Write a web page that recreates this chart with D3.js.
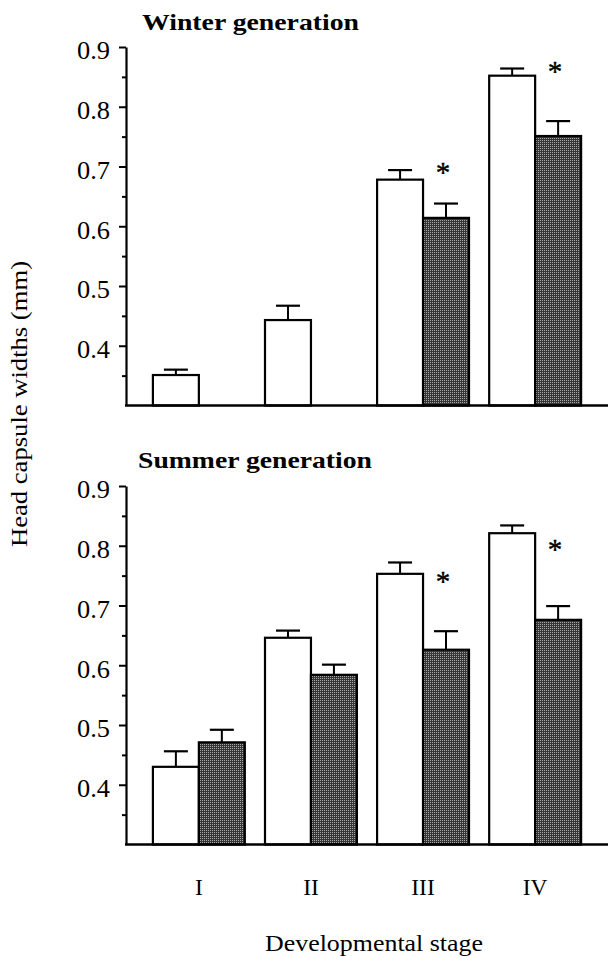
<!DOCTYPE html>
<html>
<head>
<meta charset="utf-8">
<script src="https://cdn.jsdelivr.net/npm/d3@7"></script>
<style>
  html, body { margin: 0; padding: 0; background: #fff; }
  svg { display: block; }
  text { font-family: "Liberation Serif", "Times New Roman", serif; fill: #000; }
</style>
</head>
<body>
<div id="chart"></div>
<script>
// stages on the x axis
var stages = ["I", "II", "III", "IV"];

// winter generation: open bars (mean, SE) and stippled bars (mean, SE)
var winterOpen     = [0.351, 0.443, 0.678, 0.852];
var winterOpenSE   = [0.009, 0.024, 0.016, 0.012];
var winterFilled   = [null, null, 0.614, 0.751];
var winterFilledSE = [null, null, 0.024, 0.025];
var winterStars    = [null, null, 0.700, 0.870];

// summer generation
var summerOpen     = [0.430, 0.646, 0.753, 0.821];
var summerOpenSE   = [0.026, 0.012, 0.019, 0.013];
var summerFilled   = [0.471, 0.584, 0.626, 0.676];
var summerFilledSE = [0.021, 0.017, 0.031, 0.023];
var summerStars    = [null, null, 0.751, 0.804];

var majorTicks = [0.4, 0.5, 0.6, 0.7, 0.8, 0.9];
var minorTicks = [0.35, 0.45, 0.55, 0.65, 0.75, 0.85];

var W = 608, H = 956;

var svg = d3.select("#chart").append("svg")
    .attr("width", W).attr("height", H)
    .attr("viewBox", "0 0 " + W + " " + H);

// stipple fill for the dark bars
var pat = svg.append("defs").append("pattern")
    .attr("id", "stipple")
    .attr("width", 2).attr("height", 2)
    .attr("patternUnits", "userSpaceOnUse");
pat.append("rect").attr("width", 2).attr("height", 2).attr("fill", "#363636");
pat.append("rect").attr("width", 1).attr("height", 1).attr("fill", "#a8a8a8");

var axisX = 126;

var x = d3.scaleBand()
    .domain(stages)
    .range([axisX, W])
    .paddingInner(0.18)
    .paddingOuter(0.24);

var sub = d3.scaleBand()
    .domain(["open", "filled"])
    .range([0, x.bandwidth()]);

var panels = [
  { title: "Winter  generation", titleX: 142, titleY: 30, titleLen: 217,
    top: 47, bottom: 405.5,
    open: winterOpen, openSE: winterOpenSE,
    filled: winterFilled, filledSE: winterFilledSE, stars: winterStars },
  { title: "Summer  generation", titleX: 138, titleY: 468, titleLen: 234,
    top: 486, bottom: 844.5,
    open: summerOpen, openSE: summerOpenSE,
    filled: summerFilled, filledSE: summerFilledSE, stars: summerStars }
];

panels.forEach(function(p){
    var y = d3.scaleLinear().domain([0.3, 0.9]).range([p.bottom, p.top]);
    var g = svg.append("g");

    g.append("text")
        .attr("x", p.titleX).attr("y", p.titleY)
        .attr("font-size", 23).attr("font-weight", "bold")
        .attr("textLength", p.titleLen).attr("lengthAdjust", "spacingAndGlyphs")
        .text(p.title);

    // bars
    var rows = stages.map(function(s, i){
        return [
          { stage: s, key: "open", v: p.open[i], se: p.openSE[i] },
          { stage: s, key: "filled", v: p.filled[i], se: p.filledSE[i] }
        ];
    }).flat().filter(function(d){ return d.v != null; });

    var bars = g.selectAll("g.bar").data(rows).enter().append("g").attr("class", "bar");

    bars.append("line")
        .attr("x1", function(d){ return x(d.stage) + sub(d.key) + sub.bandwidth() / 2; })
        .attr("x2", function(d){ return x(d.stage) + sub(d.key) + sub.bandwidth() / 2; })
        .attr("y1", function(d){ return y(d.v); })
        .attr("y2", function(d){ return y(d.v + d.se); })
        .attr("stroke", "#000").attr("stroke-width", 2);

    bars.append("line")
        .attr("x1", function(d){ return x(d.stage) + sub(d.key) + sub.bandwidth() / 2 - 12; })
        .attr("x2", function(d){ return x(d.stage) + sub(d.key) + sub.bandwidth() / 2 + 12; })
        .attr("y1", function(d){ return y(d.v + d.se); })
        .attr("y2", function(d){ return y(d.v + d.se); })
        .attr("stroke", "#000").attr("stroke-width", 2.2);

    bars.append("rect")
        .attr("x", function(d){ return x(d.stage) + sub(d.key); })
        .attr("y", function(d){ return y(d.v); })
        .attr("width", sub.bandwidth())
        .attr("height", function(d){ return y(0.3) - y(d.v); })
        .attr("fill", function(d){ return d.key == "open" ? "#fff" : "url(#stipple)"; })
        .attr("stroke", "#000").attr("stroke-width", 2.2);

    // significance marks
    g.selectAll("text.star")
        .data(stages.map(function(s, i){ return { stage: s, v: p.stars[i] }; })
                    .filter(function(d){ return d.v != null; }))
        .enter().append("text").attr("class", "star")
        .attr("x", function(d){ return x(d.stage) + sub("filled") + sub.bandwidth() / 2 - 3; })
        .attr("y", function(d){ return y(d.v); })
        .attr("dy", "0.55em")
        .attr("text-anchor", "middle")
        .attr("font-size", 29)
        .attr("stroke", "#000").attr("stroke-width", 0.4)
        .text("*");

    // y axis
    var yAxis = g.append("g").attr("transform", "translate(" + axisX + ",0)")
        .call(d3.axisLeft(y).tickValues(majorTicks).tickSize(7).tickSizeOuter(0)
              .tickPadding(9).tickFormat(d3.format(".1f")));
    yAxis.select(".domain").attr("stroke", "#000").attr("stroke-width", 2.2);
    yAxis.selectAll(".tick line").attr("stroke", "#000").attr("stroke-width", 2);
    yAxis.selectAll(".tick text")
        .attr("font-size", 24.5).attr("font-family", "Liberation Serif")
        .attr("dy", "0.48em")
        .attr("textLength", 33).attr("lengthAdjust", "spacingAndGlyphs");

    var yMinor = g.append("g").attr("transform", "translate(" + axisX + ",0)")
        .call(d3.axisLeft(y).tickValues(minorTicks).tickSize(4).tickFormat(""));
    yMinor.select(".domain").remove();
    yMinor.selectAll(".tick line").attr("stroke", "#000").attr("stroke-width", 2);

    // x axis line
    g.append("line")
        .attr("x1", axisX - 1).attr("x2", W)
        .attr("y1", y(0.3)).attr("y2", y(0.3))
        .attr("stroke", "#000").attr("stroke-width", 2.4);
});

// stage labels under the lower panel
svg.append("g").selectAll("text").data(stages).enter().append("text")
    .attr("x", function(d){ return x(d) + x.bandwidth() / 2; })
    .attr("y", 895)
    .attr("text-anchor", "middle")
    .attr("font-size", 23.5)
    .text(function(d){ return d; });

svg.append("text")
    .attr("x", 265).attr("y", 951)
    .attr("font-size", 23)
    .attr("textLength", 218).attr("lengthAdjust", "spacingAndGlyphs")
    .text("Developmental stage");

svg.append("text")
    .attr("transform", "translate(27,547) rotate(-90)")
    .attr("font-size", 23)
    .attr("textLength", 286).attr("lengthAdjust", "spacingAndGlyphs")
    .text("Head capsule widths (mm)");
</script>
</body>
</html>
